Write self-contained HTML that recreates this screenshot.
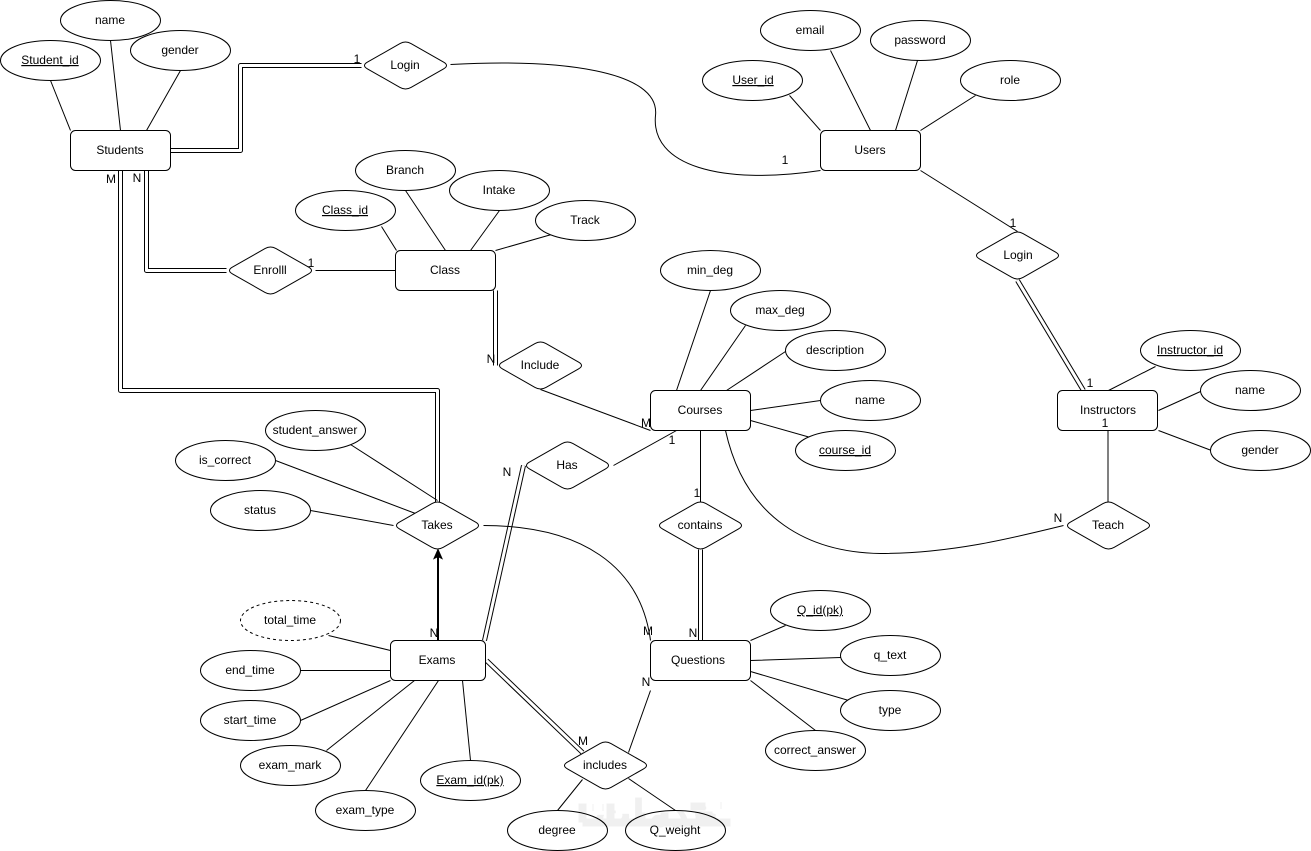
<!DOCTYPE html>
<html><head><meta charset="utf-8"><style>
html,body{margin:0;padding:0;background:#fff;width:1311px;height:851px;overflow:hidden}
svg{display:block}
text{font-family:"Liberation Sans",Arial,sans-serif;font-size:12px;fill:#000;text-anchor:middle}
.l{fill:none;stroke:#000;stroke-width:1}
.s{fill:#fff;stroke:#000;stroke-width:1}
.dk{fill:none;stroke:#000;stroke-width:5;stroke-linejoin:round}
.dw{fill:none;stroke:#fff;stroke-width:3;stroke-linejoin:round}
.u{text-decoration:underline}
</style></head><body>
<svg width="1311" height="851" viewBox="0 0 1311 851" xmlns="http://www.w3.org/2000/svg">
<g transform="translate(.5,.5)">
<path d="M582 822H730M582 803V822M610 803V822M641 812V822M664 812V822M690 806H705M695 815H712M708 822H728" fill="none" stroke="#f0f0f0" stroke-width="8"/>
<path d="M592 807h1M602 807h1M720 805h1" fill="none" stroke="#f0f0f0" stroke-width="7"/>
<text x="656" y="826" style="font-family:'DejaVu Sans',sans-serif;font-size:38px;font-weight:bold;fill:#f0f0f0">خدمات</text>

<!-- double connectors -->
<path class="dk" d="M170 150H240V65H361"/><path class="dw" d="M170 150H240V65H361"/>
<path class="dk" d="M120 170V390H437V502"/><path class="dw" d="M120 170V390H437V502"/>
<path class="dk" d="M146 170V270H226"/><path class="dw" d="M146 170V270H226"/>
<path class="dk" d="M495 290V365"/><path class="dw" d="M495 290V365"/>
<path class="dk" d="M523 465L484 640"/><path class="dw" d="M523 465L484 640"/>
<path class="dk" d="M700 549V640"/><path class="dw" d="M700 549V640"/>
<path class="dk" d="M486 660L582 752"/><path class="dw" d="M486 660L582 752"/>
<path class="dk" d="M1017 280L1083 390"/><path class="dw" d="M1017 280L1083 390"/>

<!-- single connectors -->
<path class="l" d="M50 80L70 130M110 40L120 130M180 70L146 130
M315 270H395M381 226L396 250M405 190L445 250M499 210L470 250M551 234L495 250
M540 389L650 430M710 290L676 390M745 325L700 390M785 351L726 390M820 400L750 410M810 437L750 420
M613 465L676 430M700 430V502
M350 444L437 500M275 460L415 513M310 510L393 525
M328 635L390 650M300 670H390M300 720L390 680M326 750L414 680M365 790L438 680M470 760L462 680
M650 690L628 752M582 779L557 810M628 778L675 810
M785 625L750 640M840 657L750 660M855 702L750 671M815 730L750 680
M789 95L820 130M830 50L870 130M917 60L895 130M975 95L920 130
M920 170L1017 231
M1155 366L1108 390M1200 391L1158 410M1211 450L1158 430"/>
<path class="l" d="M1107.5 430V502"/>
<path class="l" d="M450 64C560 58 660 70 655 115C650 165 720 185 820 170"/>
<path class="l" d="M483 525C580 525 640 565 650 640"/>
<path class="l" d="M725 430C745 520 810 552 880 553C950 553 1010 538 1063 525"/>
<path fill="none" stroke="#000" stroke-width="2" d="M437.5 640V555"/>
<path d="M437.5 549L441.5 558L437.5 556L433.5 558Z" fill="#000" stroke="#000"/>

<!-- entities -->
<rect class="s" x="70" y="130" width="100" height="40" rx="5"/>
<rect class="s" x="395" y="250" width="100" height="40" rx="5"/>
<rect class="s" x="820" y="130" width="100" height="40" rx="5"/>
<rect class="s" x="650" y="390" width="100" height="40" rx="5"/>
<rect class="s" x="1057" y="390" width="100" height="40" rx="5"/>
<rect class="s" x="390" y="640" width="95" height="40" rx="5"/>
<rect class="s" x="650" y="640" width="100" height="40" rx="5"/>

<!-- attributes -->
<ellipse class="s" cx="50" cy="60" rx="50" ry="20"/>
<ellipse class="s" cx="110" cy="20" rx="50" ry="20"/>
<ellipse class="s" cx="180" cy="50" rx="50" ry="20"/>
<ellipse class="s" cx="345" cy="210" rx="50" ry="20"/>
<ellipse class="s" cx="405" cy="170" rx="50" ry="20"/>
<ellipse class="s" cx="499" cy="190" rx="50" ry="20"/>
<ellipse class="s" cx="585" cy="220" rx="50" ry="20"/>
<ellipse class="s" cx="752" cy="80" rx="50" ry="20"/>
<ellipse class="s" cx="810" cy="30" rx="50" ry="20"/>
<ellipse class="s" cx="920" cy="40" rx="50" ry="20"/>
<ellipse class="s" cx="1010" cy="80" rx="50" ry="20"/>
<ellipse class="s" cx="710" cy="270" rx="50" ry="20"/>
<ellipse class="s" cx="780" cy="310" rx="50" ry="20"/>
<ellipse class="s" cx="835" cy="350" rx="50" ry="20"/>
<ellipse class="s" cx="870" cy="400" rx="50" ry="20"/>
<ellipse class="s" cx="845" cy="450" rx="50" ry="20"/>
<ellipse class="s" cx="1190" cy="350" rx="50" ry="20"/>
<ellipse class="s" cx="1250" cy="390" rx="50" ry="20"/>
<ellipse class="s" cx="1260" cy="450" rx="50" ry="20"/>
<ellipse class="s" cx="315" cy="430" rx="50" ry="20"/>
<ellipse class="s" cx="225" cy="460" rx="50" ry="20"/>
<ellipse class="s" cx="260" cy="510" rx="50" ry="20"/>
<ellipse class="s" cx="290" cy="620" rx="50" ry="20" stroke-dasharray="3 3"/>
<ellipse class="s" cx="250" cy="670" rx="50" ry="20"/>
<ellipse class="s" cx="250" cy="720" rx="50" ry="20"/>
<ellipse class="s" cx="290" cy="765" rx="50" ry="20"/>
<ellipse class="s" cx="365" cy="810" rx="50" ry="20"/>
<ellipse class="s" cx="470" cy="780" rx="50" ry="20"/>
<ellipse class="s" cx="820" cy="610" rx="50" ry="20"/>
<ellipse class="s" cx="890" cy="655" rx="50" ry="20"/>
<ellipse class="s" cx="890" cy="710" rx="50" ry="20"/>
<ellipse class="s" cx="815" cy="750" rx="50" ry="20"/>
<ellipse class="s" cx="557" cy="830" rx="50" ry="20" fill-opacity="0"/>
<ellipse class="s" cx="675" cy="830" rx="50" ry="20" fill-opacity="0"/>

<!-- relationships -->
<path class="s" transform="translate(405,65)" d="M-38 -3.4L-5.5 -21.9Q0 -25 5.5 -21.9L38 -3.4Q44 0 38 3.4L5.5 21.9Q0 25 -5.5 21.9L-38 3.4Q-44 0 -38 -3.4Z"/>
<path class="s" transform="translate(270,270)" d="M-38 -3.4L-5.5 -21.9Q0 -25 5.5 -21.9L38 -3.4Q44 0 38 3.4L5.5 21.9Q0 25 -5.5 21.9L-38 3.4Q-44 0 -38 -3.4Z"/>
<path class="s" transform="translate(540,365)" d="M-38 -3.4L-5.5 -21.9Q0 -25 5.5 -21.9L38 -3.4Q44 0 38 3.4L5.5 21.9Q0 25 -5.5 21.9L-38 3.4Q-44 0 -38 -3.4Z"/>
<path class="s" transform="translate(567,465)" d="M-38 -3.4L-5.5 -21.9Q0 -25 5.5 -21.9L38 -3.4Q44 0 38 3.4L5.5 21.9Q0 25 -5.5 21.9L-38 3.4Q-44 0 -38 -3.4Z"/>
<path class="s" transform="translate(700,525)" d="M-38 -3.4L-5.5 -21.9Q0 -25 5.5 -21.9L38 -3.4Q44 0 38 3.4L5.5 21.9Q0 25 -5.5 21.9L-38 3.4Q-44 0 -38 -3.4Z"/>
<path class="s" transform="translate(437,525)" d="M-38 -3.4L-5.5 -21.9Q0 -25 5.5 -21.9L38 -3.4Q44 0 38 3.4L5.5 21.9Q0 25 -5.5 21.9L-38 3.4Q-44 0 -38 -3.4Z"/>
<path class="s" transform="translate(605,765)" d="M-38 -3.4L-5.5 -21.9Q0 -25 5.5 -21.9L38 -3.4Q44 0 38 3.4L5.5 21.9Q0 25 -5.5 21.9L-38 3.4Q-44 0 -38 -3.4Z"/>
<path class="s" transform="translate(1017,255)" d="M-38 -3.4L-5.5 -21.9Q0 -25 5.5 -21.9L38 -3.4Q44 0 38 3.4L5.5 21.9Q0 25 -5.5 21.9L-38 3.4Q-44 0 -38 -3.4Z"/>
<path class="s" transform="translate(1108,525)" d="M-38 -3.4L-5.5 -21.9Q0 -25 5.5 -21.9L38 -3.4Q44 0 38 3.4L5.5 21.9Q0 25 -5.5 21.9L-38 3.4Q-44 0 -38 -3.4Z"/>
</g>

<!-- labels -->
<text x="120" y="154">Students</text><text x="445" y="274">Class</text><text x="870" y="154">Users</text>
<text x="700" y="414">Courses</text><text x="1108" y="414">Instructors</text><text x="437" y="664">Exams</text><text x="698" y="664">Questions</text>
<text x="50" y="64" class="u">Student_id</text><text x="110" y="24">name</text><text x="180" y="54">gender</text>
<text x="345" y="214" class="u">Class_id</text><text x="405" y="174">Branch</text><text x="499" y="194">Intake</text><text x="585" y="224">Track</text>
<text x="753" y="84" class="u">User_id</text><text x="810" y="34">email</text><text x="920" y="44">password</text><text x="1010" y="84">role</text>
<text x="710" y="274">min_deg</text><text x="780" y="314">max_deg</text><text x="835" y="354">description</text><text x="870" y="404">name</text><text x="845" y="454" class="u">course_id</text>
<text x="1190" y="354" class="u">Instructor_id</text><text x="1250" y="394">name</text><text x="1260" y="454">gender</text>
<text x="315" y="434">student_answer</text><text x="225" y="464">is_correct</text><text x="260" y="514">status</text>
<text x="290" y="624">total_time</text><text x="250" y="674">end_time</text><text x="250" y="724">start_time</text><text x="290" y="769">exam_mark</text><text x="365" y="814">exam_type</text><text x="470" y="784" class="u">Exam_id(pk)</text>
<text x="820" y="614" class="u">Q_id(pk)</text><text x="890" y="659">q_text</text><text x="890" y="714">type</text><text x="815" y="754">correct_answer</text>
<text x="557" y="834">degree</text><text x="675" y="834">Q_weight</text>
<text x="405" y="69">Login</text><text x="270" y="274">Enrolll</text><text x="540" y="369">Include</text><text x="567" y="469">Has</text><text x="700" y="529">contains</text><text x="437" y="529">Takes</text><text x="605" y="769">includes</text><text x="1018" y="259">Login</text><text x="1108" y="529">Teach</text>

<text x="357" y="63">1</text><text x="111" y="183">M</text><text x="137" y="182">N</text><text x="311" y="267">1</text><text x="491" y="363">N</text><text x="646" y="427">M</text><text x="672" y="444">1</text><text x="507" y="476">N</text><text x="697" y="497">1</text><text x="785" y="164">1</text><text x="1013" y="227">1</text><text x="1090" y="387">1</text><text x="1105" y="427">1</text><text x="1058" y="522">N</text><text x="434" y="637">N</text><text x="648" y="635">M</text><text x="693" y="637">N</text><text x="646" y="686">N</text><text x="583" y="745">M</text>
</svg>
</body></html>
